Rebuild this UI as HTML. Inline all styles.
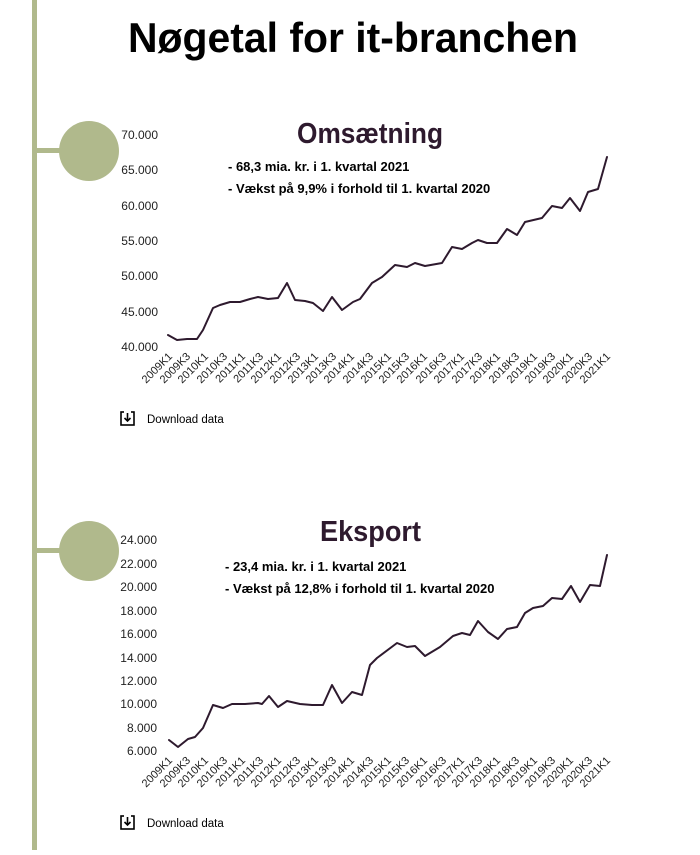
<!DOCTYPE html>
<html><head><meta charset="utf-8"><style>
body{margin:0;background:#fff;width:700px;height:850px;overflow:hidden;font-family:"Liberation Sans",sans-serif}
</style></head><body>
<svg width="700" height="850" xmlns="http://www.w3.org/2000/svg" font-family="Liberation Sans, sans-serif">
<rect x="32" y="0" width="5" height="850" fill="#b0b98c"/>
<rect x="37" y="148" width="26" height="5" fill="#b0b98c"/>
<circle cx="89" cy="151" r="30" fill="#b0b98c"/>
<rect x="37" y="548" width="26" height="5" fill="#b0b98c"/>
<circle cx="89" cy="551" r="30" fill="#b0b98c"/>
<text x="128" y="52" font-size="42" font-weight="bold" fill="#000" textLength="450" lengthAdjust="spacingAndGlyphs">Nøgetal for it-branchen</text>

<text x="297" y="143" font-size="29" font-weight="bold" fill="#2e1a2e" textLength="146" lengthAdjust="spacingAndGlyphs">Omsætning</text>
<text x="228" y="171" font-size="13" font-weight="bold">- 68,3 mia. kr. i 1. kvartal 2021</text>
<text x="228" y="193" font-size="13" font-weight="bold">- Vækst på 9,9% i forhold til 1. kvartal 2020</text>
<g font-size="12" text-anchor="end" fill="#222">
<text x="158" y="139">70.000</text><text x="158" y="174">65.000</text><text x="158" y="210">60.000</text><text x="158" y="245">55.000</text><text x="158" y="280">50.000</text><text x="158" y="316">45.000</text><text x="158" y="351">40.000</text>
</g>
<polyline fill="none" stroke="#2e1a2e" stroke-width="2" stroke-linejoin="round" stroke-linecap="round" points="168,335 177,340 187,339 197,339 203,330 213,308 220,305 230,302 240,302 250,299 258,297 268,299 278,298 287,283 295,300 305,301 313,303 323,311 332,297 342,310 353,302 360,299 372,283 382,277 395,265 407,267 415,263 425,266 442,263 452,247 462,249 472,243 478,240 487,243 497,243 507,229 517,235 525,222 542,218 552,206 562,208 570,198 580,211 588,192 598,189 607,157"/>
<g transform="translate(120,411)"><rect x="1" y="1" width="13" height="13" fill="none" stroke="#000" stroke-width="1.6"/><rect x="4" y="-1" width="7" height="4" fill="#fff"/><path d="M7.5 2v8M4.5 7l3 3 3-3" stroke="#000" stroke-width="1.6" fill="none"/></g>
<text x="147" y="423" font-size="11.5">Download data</text>

<text x="320" y="541" font-size="29" font-weight="bold" fill="#2e1a2e" textLength="101" lengthAdjust="spacingAndGlyphs">Eksport</text>
<text x="225" y="571" font-size="13" font-weight="bold">- 23,4 mia. kr. i 1. kvartal 2021</text>
<text x="225" y="593" font-size="13" font-weight="bold">- Vækst på 12,8% i forhold til 1. kvartal 2020</text>
<g font-size="12" text-anchor="end" fill="#222">
<text x="157" y="544">24.000</text><text x="157" y="568">22.000</text><text x="157" y="591">20.000</text><text x="157" y="615">18.000</text><text x="157" y="638">16.000</text><text x="157" y="662">14.000</text><text x="157" y="685">12.000</text><text x="157" y="708">10.000</text><text x="157" y="732">8.000</text><text x="157" y="755">6.000</text>
</g>
<polyline fill="none" stroke="#2e1a2e" stroke-width="2" stroke-linejoin="round" stroke-linecap="round" points="169,740 178,747 188,739 195,737 203,728 213,705 223,708 232,704 245,704 258,703 262,704 269,696 278,707 287,701 300,704 312,705 323,705 332,685 342,703 352,692 362,695 370,665 377,658 397,643 407,647 415,646 425,656 440,647 453,636 462,633 470,635 478,621 488,632 498,639 507,629 517,627 525,613 533,608 543,606 552,598 562,599 571,586 580,602 590,585 600,586 607,555"/>
<g transform="translate(120,815)"><rect x="1" y="1" width="13" height="13" fill="none" stroke="#000" stroke-width="1.6"/><rect x="4" y="-1" width="7" height="4" fill="#fff"/><path d="M7.5 2v8M4.5 7l3 3 3-3" stroke="#000" stroke-width="1.6" fill="none"/></g>
<text x="147" y="827" font-size="11.5">Download data</text>

<g font-size="11" text-anchor="end" fill="#222">
<text transform="translate(173,357) rotate(-45)">2009K1</text><text transform="translate(191,357) rotate(-45)">2009K3</text><text transform="translate(209,357) rotate(-45)">2010K1</text><text transform="translate(228,357) rotate(-45)">2010K3</text><text transform="translate(246,357) rotate(-45)">2011K1</text><text transform="translate(264,357) rotate(-45)">2011K3</text><text transform="translate(282,357) rotate(-45)">2012K1</text><text transform="translate(301,357) rotate(-45)">2012K3</text><text transform="translate(319,357) rotate(-45)">2013K1</text><text transform="translate(337,357) rotate(-45)">2013K3</text><text transform="translate(355,357) rotate(-45)">2014K1</text><text transform="translate(374,357) rotate(-45)">2014K3</text><text transform="translate(392,357) rotate(-45)">2015K1</text><text transform="translate(410,357) rotate(-45)">2015K3</text><text transform="translate(428,357) rotate(-45)">2016K1</text><text transform="translate(447,357) rotate(-45)">2016K3</text><text transform="translate(465,357) rotate(-45)">2017K1</text><text transform="translate(483,357) rotate(-45)">2017K3</text><text transform="translate(501,357) rotate(-45)">2018K1</text><text transform="translate(520,357) rotate(-45)">2018K3</text><text transform="translate(538,357) rotate(-45)">2019K1</text><text transform="translate(556,357) rotate(-45)">2019K3</text><text transform="translate(574,357) rotate(-45)">2020K1</text><text transform="translate(593,357) rotate(-45)">2020K3</text><text transform="translate(611,357) rotate(-45)">2021K1</text>
</g>
<g font-size="11" text-anchor="end" fill="#222">
<text transform="translate(173,761) rotate(-45)">2009K1</text><text transform="translate(191,761) rotate(-45)">2009K3</text><text transform="translate(209,761) rotate(-45)">2010K1</text><text transform="translate(228,761) rotate(-45)">2010K3</text><text transform="translate(246,761) rotate(-45)">2011K1</text><text transform="translate(264,761) rotate(-45)">2011K3</text><text transform="translate(282,761) rotate(-45)">2012K1</text><text transform="translate(301,761) rotate(-45)">2012K3</text><text transform="translate(319,761) rotate(-45)">2013K1</text><text transform="translate(337,761) rotate(-45)">2013K3</text><text transform="translate(355,761) rotate(-45)">2014K1</text><text transform="translate(374,761) rotate(-45)">2014K3</text><text transform="translate(392,761) rotate(-45)">2015K1</text><text transform="translate(410,761) rotate(-45)">2015K3</text><text transform="translate(428,761) rotate(-45)">2016K1</text><text transform="translate(447,761) rotate(-45)">2016K3</text><text transform="translate(465,761) rotate(-45)">2017K1</text><text transform="translate(483,761) rotate(-45)">2017K3</text><text transform="translate(501,761) rotate(-45)">2018K1</text><text transform="translate(520,761) rotate(-45)">2018K3</text><text transform="translate(538,761) rotate(-45)">2019K1</text><text transform="translate(556,761) rotate(-45)">2019K3</text><text transform="translate(574,761) rotate(-45)">2020K1</text><text transform="translate(593,761) rotate(-45)">2020K3</text><text transform="translate(611,761) rotate(-45)">2021K1</text>
</g>
</svg>
</body></html>
